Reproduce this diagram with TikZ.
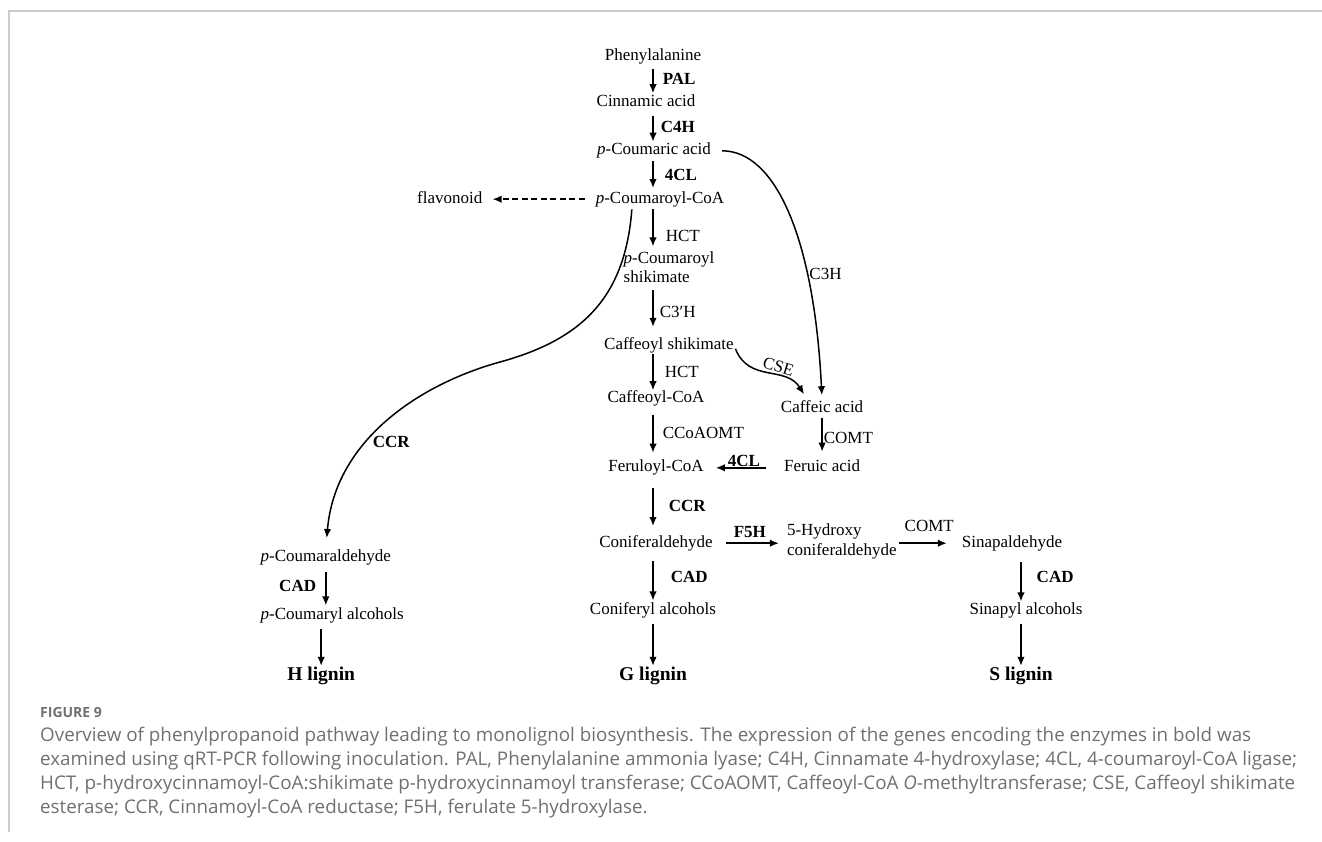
\documentclass[tikz,border=0pt]{standalone}
\usepackage{fontspec}
\setmainfont{Liberation Serif}
\newfontfamily\captionfont{Open Sans}
\usetikzlibrary{arrows.meta,positioning}
\definecolor{rammegraa}{RGB}{204,204,204}
\definecolor{tekstgraa}{RGB}{112,112,112}
\tikzset{
    %Define standard arrow tip
    >={Latex[length=9pt,width=7.5pt]},
    %Define style for compounds
    stoff/.style={
           inner sep=0pt,
           text height=12pt,
           text depth=4pt,
           font=\fontsize{17}{19.5}\selectfont},
    lignin/.style={
           inner sep=0pt,
           text height=14pt,
           text depth=4pt,
           font=\fontsize{19.5}{22}\selectfont\bfseries},
    % Define style for enzyme labels
    enzym/.style={
           inner sep=1pt,
           font=\fontsize{17}{19.5}\selectfont},
    enzymfed/.style={
           inner sep=1pt,
           font=\fontsize{17}{19.5}\selectfont\bfseries},
    % Define arrow styles
    pil/.style={
           ->,
           line width=1.5pt,
           shorten <=3pt,
           shorten >=3pt,},
    stiplet/.style={
           pil,
           line width=1.6pt,
           dash pattern=on 6pt off 3.5pt}
}

\begin{document}
\begin{tikzpicture}[x=1pt, y=-1pt, node distance=30pt]
\useasboundingbox (0,0) rectangle (1322,841);

%frame
\draw[rammegraa, line width=1.2pt] (1322,11) -- (9,11) -- (9,832);

%main column
\coordinate (akse) at (653,0);
\node[stoff] (phe) at (653,56) {Phenylalanine};
\node[stoff, below=30pt of phe, xshift=-7pt] (cin) {Cinnamic acid};
\node[stoff, below=32pt of cin, xshift=8pt] (pcm) {\textit{p}-Coumaric acid};
\node[stoff, below=32pt of pcm, xshift=6pt] (pcoa) {\textit{p}-Coumaroyl-CoA};
\node[stoff, below=63pt of pcoa, xshift=9pt, align=left] (pcsh) {\textit{p}-Coumaroyl\\shikimate};
\node[stoff, below=50pt of pcsh] (csh) {Caffeoyl shikimate};
\node[stoff, below=37pt of csh, xshift=-13pt] (ccoa) {Caffeoyl-CoA};
\node[stoff, below=53pt of ccoa] (fcoa) {Feruloyl-CoA};
\node[stoff, below=59pt of fcoa] (conald) {Coniferaldehyde};
\node[stoff, below=51pt of conald, xshift=-3pt] (conalc) {Coniferyl alcohols};
\node[lignin, below=47pt of conalc] (glig) {G lignin};

%side branches
\node[stoff, left=113pt of pcoa] (flav) {flavonoid};
\node[stoff, right=80pt of fcoa] (fer) {Feruic acid};
\node[stoff, above=43pt of fer] (caf) {Caffeic acid};
\node[stoff, right=74pt of conald, yshift=-8pt, align=left] (hcon) {5-Hydroxy\\coniferaldehyde};
\node[stoff, right=65pt of hcon, yshift=8pt] (sald) {Sinapaldehyde};
\node[stoff, below=51pt of sald, xshift=14pt] (salc) {Sinapyl alcohols};
\node[lignin, below=47pt of salc, xshift=-5pt] (slig) {S lignin};
\node[stoff, left=208pt of conald, yshift=-14pt] (pald) {\textit{p}-Coumaraldehyde};
\node[stoff, below right=42pt and 0pt of pald.south west] (pcalc) {\textit{p}-Coumaryl alcohols};
\node[lignin, below=42pt of pcalc, xshift=-11pt] (hlig) {H lignin};

%main arrows
\draw[pil, shorten <=5pt, shorten >=1pt] (phe.south -| akse) -- node[enzymfed, right=8pt] {PAL} (cin.north -| akse);
\draw[pil, shorten <=5pt, shorten >=1pt] (cin.south -| akse) -- node[enzymfed, right=6pt] {C4H} (pcm.north -| akse);
\draw[pil, shorten <=2pt] (pcm.south -| akse) -- node[enzymfed, right=10pt] {4CL} (pcoa.north -| akse);
\draw[pil, shorten <=2pt, shorten >=24pt] (pcoa.south -| akse) -- node[enzym, right=11pt, pos=0.45] {HCT} (pcsh.north -| akse);
\draw[pil, shorten >=10pt] (pcsh.south -| akse) -- node[enzym, right=5pt] {C3′H} (csh.north -| akse);
\draw[pil, shorten <=1pt, shorten >=0pt] (csh.south -| akse) -- node[enzym, right=10pt] {HCT} (ccoa.north -| akse);
\draw[pil, shorten <=8pt, shorten >=7pt] (ccoa.south -| akse) -- node[enzym, right=8pt] {CCoAOMT} (fcoa.north -| akse);
\draw[pil, shorten <=12pt, shorten >=9pt] (fcoa.south -| akse) -- node[enzymfed, right=14pt] {CCR} (conald.north -| akse);
\draw[pil, shorten <=10pt, shorten >=2pt] (conald.south -| akse) -- node[enzymfed, right=16pt] {CAD} (conalc.north -| akse);
\draw[pil, shorten <=5pt, shorten >=0pt] (conalc.south -| akse) -- (glig.north -| akse);

%branch arrows
\draw[stiplet, shorten <=11pt, shorten >=10pt] (pcoa.west) -- (flav.east);
\draw[pil, shorten <=11pt, shorten >=5pt]
    (pcm.east) .. controls +(64,0) and +(-8,-163) .. (caf.north)
    node[enzym, pos=0.7, right=1pt] {C3H};
\draw[pil, shorten <=4pt, shorten >=7pt]
    (csh.east) .. controls +(15,38) and +(-22,-35) .. ([xshift=27pt]caf.north west)
    node[enzym, pos=0.6, above=4pt, rotate=-17, inner sep=0pt] {CSE};
\draw[pil, shorten <=1pt, shorten >=8pt] (caf.south) -- node[enzym, right=0pt] {COMT} (fer.north);
\draw[pil, shorten <=18pt, shorten >=12pt] (fer.west) -- node[enzymfed, above, inner sep=0pt] {4CL} (fcoa.east);
\draw[pil, shorten <=13pt, shorten >=8pt] (conald.east) -- node[enzymfed, above=5pt, inner sep=0pt] {F5H} (conald.east -| hcon.west);
\draw[pil, shorten <=2pt, shorten >=15pt] (hcon.east |- sald) -- node[enzym, above=11pt, inner sep=0pt] {COMT} (sald.west);
\draw[pil, shorten <=11pt, shorten >=1pt] (sald.south -| slig) -- node[enzymfed, right=14pt] {CAD} (salc.north -| slig);
\draw[pil, shorten <=5pt, shorten >=0pt] (salc.south -| slig) -- (slig.north);

%H branch
\draw[pil, shorten <=2pt, shorten >=11pt]
    ([xshift=-28pt]pcoa.south) .. controls +(-7,92) and (580,340) .. (500,362)
    .. controls (420,384) and (335,440) .. (pald.north)
    node[enzymfed, pos=0.6, right=3pt] {CCR};
\draw[pil, shorten <=7pt, shorten >=2pt] (pald.south) -- node[enzymfed, left=8pt] {CAD} (pald.south |- pcalc.north);
\draw[pil, shorten <=5pt, shorten >=0pt] (pcalc.south -| hlig) -- (hlig.north);

%caption
\node[anchor=base west, inner sep=0pt, text=tekstgraa, font=\captionfont\fontsize{14}{16}\selectfont\bfseries] (fig) at (40,717) {FIGURE 9};
\node[anchor=north west, inner sep=0pt, align=left, text=tekstgraa, font=\captionfont\fontsize{18.8}{24}\selectfont] (tekst) at (40,727)
  {Overview of phenylpropanoid pathway leading to monolignol biosynthesis. The expression of the genes encoding the enzymes in bold was\\
   examined using qRT-PCR following inoculation. PAL, Phenylalanine ammonia lyase; C4H, Cinnamate 4-hydroxylase; 4CL, 4-coumaroyl-CoA ligase;\\
   HCT, p-hydroxycinnamoyl-CoA:shikimate p-hydroxycinnamoyl transferase; CCoAOMT, Caffeoyl-CoA \textit{O}-methyltransferase; CSE, Caffeoyl shikimate\\
   esterase; CCR, Cinnamoyl-CoA reductase; F5H, ferulate 5-hydroxylase.};
\end{tikzpicture}
\end{document}
